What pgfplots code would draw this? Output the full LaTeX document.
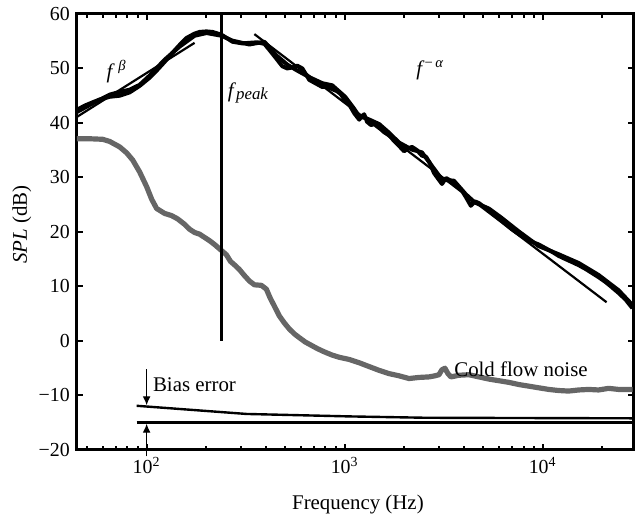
\documentclass[border=0pt]{standalone}
\usepackage{fontspec}
\setmainfont{Liberation Serif}
\usepackage{pgfplots}
\pgfplotsset{compat=1.18}
\usetikzlibrary{arrows.meta}
\definecolor{noisegray}{RGB}{102,102,102}
\begin{document}
\begin{tikzpicture}
\begin{axis}[
  name=ax,
  xmode=log, scale only axis, width=279bp, height=218.5bp,
  xmin=44.4, xmax=28740, ymin=-20, ymax=60,
  clip=false,
  xtick={100,1000,10000},
  xticklabels={10\textsuperscript{2},10\textsuperscript{3},10\textsuperscript{4}},
  minor xtick={50,60,70,80,90,200,300,400,500,600,700,800,900,2000,3000,4000,5000,6000,7000,8000,9000,20000},
  ytick={-20,-10,0,10,20,30,40,50,60},
  yticklabels={−20,−10,0,10,20,30,40,50,60},
  axis line style={line width=1.5bp},
  every tick/.style={black, line width=1bp},
  major tick length=3bp, minor tick length=1.8bp,
  tick label style={font=\fontsize{10}{12}\selectfont},
  label style={font=\fontsize{10.5}{12}\selectfont},
  xlabel={Frequency (Hz)},
  ylabel={\textit{SPL} (dB)},
  xlabel style={at={(axis description cs:0.505,-0.126)}, anchor=center},
  ylabel style={at={(axis description cs:-0.0986,0.517)}, anchor=center},
]
% cold flow noise
\addplot[noisegray, line width=2.6bp, line join=round] table {
44.4 37.1
51.6 37.1
60.0 37.0
65.1 36.6
73.1 35.6
79.3 34.5
85.0 33.2
92.2 31.0
100 28.3
106.0 26.0
112.3 24.3
123.2 23.4
133.6 23.0
143.3 22.4
155.4 21.4
164.7 20.5
174.6 19.9
185.0 19.6
196.0 19.0
207.7 18.4
220.1 17.7
238.6 16.6
252.9 15.8
265.0 14.6
280.8 13.8
294.1 13.1
311.7 12.0
330.2 11.0
350.0 10.3
379.6 10.2
402.3 9.5
421.4 7.8
441.4 6.4
467.7 4.6
495.7 3.3
525.3 2.2
556.7 1.3
589.9 0.6
632.4 -0.2
678.0 -0.8
727.0 -1.4
788.4 -2.0
865.0 -2.6
938.3 -3.0
1054 -3.4
1183 -4.0
1328 -4.7
1492 -5.4
1676 -6.0
1882 -6.4
2113 -6.9
2373 -6.7
2666 -6.6
2857 -6.4
2993 -6.2
3098 -5.3
3208 -5.0
3322 -6.0
3440 -6.6
3773 -6.3
4238 -6.2
4760 -6.6
5345 -7.0
6002 -7.3
6741 -7.6
7571 -8.0
8502 -8.3
9546 -8.6
10720 -8.9
12040 -9.1
13521 -9.2
15185 -9.0
17050 -8.9
19150 -9.0
21510 -8.7
24155 -8.9
28410 -8.9
};
% measured spectrum A
\addplot[black, line width=2bp, line join=round] table {
44.4 42.4
48.8 43.2
53.5 43.8
57.9 44.3
65.1 44.8
73.1 45.0
82.0 45.6
92.2 46.8
103.5 48.3
112.3 49.6
123.2 51.2
135.2 52.9
146.6 54.3
159.1 55.6
174.6 56.4
185.0 56.7
200.6 56.8
215.1 56.7
238.6 56.2
255.9 55.5
271.3 54.9
304.5 54.6
330.2 54.7
362.4 54.8
393.4 54.5
416.9 53.4
451.9 51.8
484.4 50.4
513.2 50.0
544.2 50.2
576.6 50.5
611.4 50.0
662.7 47.9
718.4 47.2
770.4 46.6
816.5 46.6
865.6 46.2
917.3 45.8
960.6 45.2
1006 44.0
1054 43.4
1117 41.8
1184 40.6
1211 41.1
1254 41.6
1298 40.2
1360 39.6
1425 39.9
1493 39.3
1582 38.3
1676 37.8
1775 36.7
1882 35.8
1994 34.8
2089 35.3
2188 35.6
2318 35.0
2455 34.0
2574 33.8
2697 32.6
2826 30.8
2960 29.8
3101 28.8
3249 29.9
3357 29.6
3562 28.8
3774 28.0
3907 27.6
4093 26.4
4337 24.8
4543 25.6
4760 25.3
5044 24.6
5344 23.9
5532 23.6
5795 23.0
6141 22.2
6507 21.4
6977 20.5
7566 19.6
8205 18.8
8803 18.2
9546 17.7
10352 17.0
11107 16.4
12042 15.6
13060 15.0
14010 14.5
15190 13.9
16474 13.2
17669 12.5
19154 11.7
20774 10.8
22268 9.9
24160 8.8
26190 7.6
28390 6.0
};
% measured spectrum B
\addplot[black, line width=2bp, line join=round] table {
44.4 42.0
53.5 43.6
65.1 45.2
73.1 45.7
82.0 46.1
92.2 47.0
103.5 48.7
123.2 51.6
146.6 54.0
174.6 56.0
200.6 56.5
238.6 56.0
271.3 55.1
330.2 54.4
393.4 54.9
451.9 52.4
513.2 50.7
576.6 49.6
662.7 48.4
770.4 47.3
865.6 46.9
1006 44.8
1117 42.6
1184 41.2
1298 40.8
1493 39.8
1676 38.2
1882 36.4
2188 35.1
2455 34.6
2826 31.6
3101 29.6
3562 29.4
4093 26.9
4543 25.4
5344 24.3
6141 22.7
7566 20.1
9546 17.4
12042 15.9
15190 14.3
19154 12.1
24160 9.3
28390 6.6
};
% fit lines
\addplot[black, line width=1.1bp] coordinates {(44.4,41.1) (174.6,54.7)};
\addplot[black, line width=1.1bp] coordinates {(350,56.3) (21014,7.1)};
% f_peak
\addplot[black, line width=1.4bp] coordinates {(238.6,0) (238.6,60)};
% bias lines
\addplot[black, line width=1.2bp] coordinates {(89,-11.9) (319,-13.4) (1054,-13.85) (2574,-14.1) (28400,-14.2)};
\addplot[black, line width=1.2bp] coordinates {(89,-15) (28400,-15)};
% arrows
\addplot[black, line width=0.6bp, -{Latex[length=4.5bp,width=4bp]}] coordinates {(100,-5.2) (100,-11.8)};
\addplot[black, line width=0.6bp, -{Latex[length=4.5bp,width=4bp]}] coordinates {(100,-21.2) (100,-15.2)};
% annotations
\node[font=\fontsize{10.5}{12}\selectfont, inner sep=0] at (axis cs:70.6,49.5) {\textit{f}\,\textsuperscript{\textit{β}}};
\node[font=\fontsize{10.5}{12}\selectfont, inner sep=0, anchor=west] at (axis cs:256,45.5) {\textit{f}\raisebox{-0.3ex}{\fontsize{8.5}{10}\selectfont\textit{peak}}};
\node[font=\fontsize{10.5}{12}\selectfont, inner sep=0, anchor=west] at (axis cs:2291,49.7) {\textit{f}\textsuperscript{−\,\textit{α}}};
\node[font=\fontsize{10.5}{12}\selectfont, inner sep=0, anchor=west] at (axis cs:107.2,-8.0) {Bias error};
\node[font=\fontsize{10.5}{12}\selectfont, inner sep=0, anchor=west] at (axis cs:3562,-5.2) {Cold flow noise};
\end{axis}
\pgfresetboundingbox
\path ([shift={(-38.5bp,-35.5bp)}]ax.south west) rectangle ([shift={(0.75bp,7bp)}]ax.north east);
\end{tikzpicture}
\end{document}
